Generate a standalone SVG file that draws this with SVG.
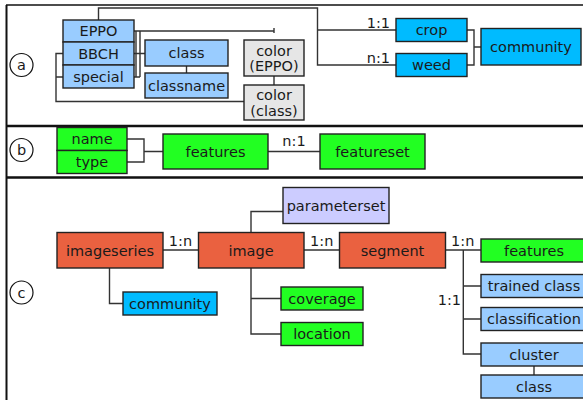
<svg xmlns="http://www.w3.org/2000/svg" width="583" height="400" viewBox="0 0 583 400">
<style>
text{font-family:"DejaVu Sans","Liberation Sans",sans-serif;font-size:14.5px;fill:#1a1a1a;text-anchor:middle}
.n rect{stroke:#222;stroke-width:1.4}
.lb{fill:#99ccff}.cy{fill:#00bbff}.gr{fill:#e6e6e6}.gn{fill:#22ff22}.or{fill:#ea6140}.lv{fill:#ccccff}
.c path{fill:none;stroke:#333;stroke-width:1.4}
.fr{fill:none;stroke:#111}
.lab{text-anchor:middle}
.end{text-anchor:end}
</style>
<g id="frame">
<path class="fr" d="M6,5 H583" stroke-width="1.5"/>
<path class="fr" d="M6.5,5 V400" stroke-width="2"/>
<path class="fr" d="M6,126 H583 M6,177.5 H583" stroke-width="2.5"/>
<circle cx="21.5" cy="65" r="11.5" fill="#fff" stroke="#111" stroke-width="1.2"/>
<text x="21.5" y="70">a</text>
<circle cx="21.5" cy="150" r="11.5" fill="#fff" stroke="#111" stroke-width="1.2"/>
<text x="21.5" y="155">b</text>
<circle cx="21.5" cy="292.5" r="11.5" fill="#fff" stroke="#111" stroke-width="1.2"/>
<text x="21.5" y="297.5">c</text>
</g>
<g id="connectors" class="c">
<path d="M98.5,20 V8 H317.5 V65 H396 M317.5,30 H396"/>
<path d="M134,31 H274 M274,28 V33"/>
<path d="M136,31 V77 M140,31 V77 M134,53.5 H145 M134,77 H140"/>
<path d="M186.5,66 V73"/>
<path d="M274,76 V85"/>
<path d="M63,53.5 H56 V101.5 H244 M63,77 H56"/>
<path d="M467,30 H474 V65 H467 M474,47 H481"/>
<path d="M127,139 H144 V162 H127 M144,151.5 H163"/>
<path d="M268,151.5 H320"/>
<path d="M163,250 H198.5 M304,250 H339.5 M445.5,250 H481"/>
<path d="M463.3,250 V354 H481 M463.3,286 H481 M463.3,319 H481"/>
<path d="M251,232.5 V211.5 H283"/>
<path d="M251,268 V334 H281 M251,298.5 H281"/>
<path d="M109.5,268 V303.5 H123"/>
<path d="M534,366 V375"/>
</g>
<g id="labels">
<text class="end" x="390" y="28">1:1</text>
<text class="end" x="390" y="63">n:1</text>
<text x="294" y="146">n:1</text>
<text x="180.5" y="246">1:n</text>
<text x="321.7" y="246">1:n</text>
<text x="462.7" y="246">1:n</text>
<text class="end" x="461" y="305">1:1</text>
</g>
<g id="a-EPPO" class="n"><rect class="lb" x="63" y="20" width="71" height="22"/><text x="98.5" y="36">EPPO</text></g>
<g id="a-BBCH" class="n"><rect class="lb" x="63" y="42" width="71" height="23"/><text x="98.5" y="58.5">BBCH</text></g>
<g id="a-special" class="n"><rect class="lb" x="63" y="65" width="71" height="23"/><text x="98.5" y="81.5">special</text></g>
<g id="a-class" class="n"><rect class="lb" x="145" y="40" width="83" height="26"/><text x="186.5" y="58">class</text></g>
<g id="a-classname" class="n"><rect class="lb" x="145" y="73" width="83" height="25"/><text x="186.5" y="90.5">classname</text></g>
<g id="a-colorEPPO" class="n"><rect class="gr" x="244" y="40" width="60" height="36"/><text x="274" y="55.5">color</text><text x="274" y="71">(EPPO)</text></g>
<g id="a-colorclass" class="n"><rect class="gr" x="244" y="85" width="60" height="35"/><text x="274" y="100">color</text><text x="274" y="115.5">(class)</text></g>
<g id="a-crop" class="n"><rect class="cy" x="396" y="18.5" width="71" height="23"/><text x="431.5" y="35">crop</text></g>
<g id="a-weed" class="n"><rect class="cy" x="396" y="53.5" width="71" height="23"/><text x="431.5" y="70">weed</text></g>
<g id="a-community" class="n"><rect class="cy" x="481" y="28.5" width="100" height="36.5"/><text x="531" y="52">community</text></g>
<g id="b-name" class="n"><rect class="gn" x="57" y="127.5" width="70" height="23"/><text x="92" y="144">name</text></g>
<g id="b-type" class="n"><rect class="gn" x="57" y="150.5" width="70" height="23"/><text x="92" y="167">type</text></g>
<g id="b-features" class="n"><rect class="gn" x="163" y="134" width="105" height="35"/><text x="215.5" y="156.5">features</text></g>
<g id="b-featureset" class="n"><rect class="gn" x="320" y="134" width="105" height="35"/><text x="372.5" y="156.5">featureset</text></g>
<g id="c-imageseries" class="n"><rect class="or" x="57" y="232.5" width="106" height="35.5"/><text x="110" y="255.5">imageseries</text></g>
<g id="c-image" class="n"><rect class="or" x="198.5" y="232.5" width="105.5" height="35.5"/><text x="251" y="255.5">image</text></g>
<g id="c-segment" class="n"><rect class="or" x="339.5" y="232.5" width="106" height="35.5"/><text x="392.5" y="255.5">segment</text></g>
<g id="c-parameterset" class="n"><rect class="lv" x="283" y="187.5" width="106" height="36"/><text x="336" y="210.5">parameterset</text></g>
<g id="c-community" class="n"><rect class="cy" x="123" y="292" width="94" height="23"/><text x="170" y="308.5">community</text></g>
<g id="c-coverage" class="n"><rect class="gn" x="281" y="287" width="82" height="23"/><text x="322" y="303.5">coverage</text></g>
<g id="c-location" class="n"><rect class="gn" x="281" y="322.5" width="82" height="23"/><text x="322" y="339">location</text></g>
<g id="c-features" class="n"><rect class="gn" x="481" y="239" width="106" height="23"/><text x="534" y="255.5">features</text></g>
<g id="c-trainedclass" class="n"><rect class="lb" x="481" y="274.5" width="106" height="23"/><text x="534" y="291">trained class</text></g>
<g id="c-classification" class="n"><rect class="lb" x="481" y="307.5" width="106" height="23"/><text x="534" y="324">classification</text></g>
<g id="c-cluster" class="n"><rect class="lb" x="481" y="343" width="106" height="23"/><text x="534" y="359.5">cluster</text></g>
<g id="c-class" class="n"><rect class="lb" x="481" y="375" width="106" height="23"/><text x="534" y="391.5">class</text></g>
</svg>
